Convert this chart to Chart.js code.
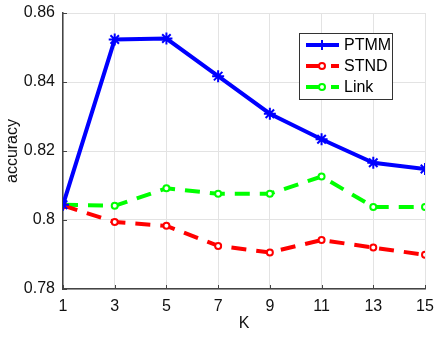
<!DOCTYPE html>
<html>
<head>
<meta charset="utf-8">
<script src="https://cdn.jsdelivr.net/npm/chart.js@4.4.1/dist/chart.umd.min.js"></script>
<style>
  html, body { margin: 0; padding: 0; background: #fff; }
  #wrap { width: 435px; height: 340px; }
</style>
</head>
<body>
<div id="wrap"><canvas id="accChart" width="435" height="340"></canvas></div>
<script>
// dữ liệu
const kValues = [1, 3, 5, 7, 9, 11, 13, 15];
const ptmm = [0.8044, 0.8523, 0.8526, 0.8417, 0.8308, 0.8234, 0.8166, 0.8148];
const stnd = [0.8042, 0.7994, 0.7983, 0.7925, 0.7906, 0.7942, 0.7920, 0.7899];
const link = [0.8044, 0.8041, 0.8092, 0.8076, 0.8076, 0.8126, 0.8038, 0.8038];
const xTicks = [1, 3, 5, 7, 9, 11, 13, 15];
const yTicks = [0.78, 0.8, 0.82, 0.84, 0.86];

const toPoints = arr => arr.map((v, i) => ({ x: kValues[i], y: v }));
const fontFamily = "'Liberation Sans', Arial, sans-serif";

// legend tự vẽ bên trong vùng biểu đồ
const boxLegend = {
  id: 'boxLegend',
  afterDatasetsDraw(chart) {
    const c = chart.ctx;
    const x0 = 299, y0 = 33, w = 93, h = 66;
    c.save();
    c.fillStyle = '#fff';
    c.fillRect(x0, y0, w, h);
    c.strokeStyle = '#333';
    c.lineWidth = 1;
    c.strokeRect(x0 + 0.5, y0 + 0.5, w, h);
    chart.data.datasets.forEach((ds, i) => {
      const y = y0 + 12 + i * 21;
      c.strokeStyle = ds.borderColor;
      c.lineWidth = 4;
      c.setLineDash(ds.borderDash || []);
      c.beginPath();
      c.moveTo(x0 + 7, y);
      c.lineTo(x0 + 40, y);
      c.stroke();
      c.setLineDash([]);
      c.lineWidth = 2;
      if (ds.pointStyle === 'star') {
        c.beginPath();
        c.moveTo(x0 + 23, y - 5); c.lineTo(x0 + 23, y + 5);
        c.moveTo(x0 + 18, y); c.lineTo(x0 + 28, y);
        c.stroke();
      } else {
        c.beginPath();
        c.fillStyle = '#fff';
        c.arc(x0 + 23, y, 3, 0, Math.PI * 2);
        c.fill();
        c.stroke();
      }
      c.fillStyle = '#000';
      c.font = '16px ' + fontFamily;
      c.textBaseline = 'middle';
      c.fillText(ds.label, x0 + 45, y + 1);
    });
    c.restore();
  }
};

// vạch tick nhỏ hướng vào trong, kiểu MATLAB
const innerTicks = {
  id: 'innerTicks',
  afterDraw(chart) {
    const c = chart.ctx;
    const { x, y } = chart.scales;
    const a = chart.chartArea;
    c.save();
    c.strokeStyle = '#444';
    c.lineWidth = 1;
    c.beginPath();
    xTicks.forEach(v => {
      const px = Math.round(x.getPixelForValue(v)) + 0.5;
      c.moveTo(px, a.bottom); c.lineTo(px, a.bottom - 4);
    });
    yTicks.forEach(v => {
      const py = Math.round(y.getPixelForValue(v)) + 0.5;
      c.moveTo(a.left, py); c.lineTo(a.left + 4, py);
    });
    c.stroke();
    c.restore();
  }
};

const ctx = document.getElementById('accChart').getContext('2d');
new Chart(ctx, {
  type: 'line',
  data: {
    datasets: [
      {
        label: 'PTMM',
        data: toPoints(ptmm),
        borderColor: '#0000ff',
        backgroundColor: '#0000ff',
        borderWidth: 4,
        pointStyle: 'star',
        pointRadius: 6,
        pointBorderWidth: 2,
        tension: 0
      },
      {
        label: 'STND',
        data: toPoints(stnd),
        borderColor: '#ff0000',
        backgroundColor: '#ffffff',
        borderWidth: 4,
        borderDash: [15, 10],
        pointStyle: 'circle',
        pointRadius: 3,
        pointBorderWidth: 2,
        tension: 0
      },
      {
        label: 'Link',
        data: toPoints(link),
        borderColor: '#00ff00',
        backgroundColor: '#ffffff',
        borderWidth: 4,
        borderDash: [15, 10],
        pointStyle: 'circle',
        pointRadius: 3,
        pointBorderWidth: 2,
        tension: 0
      }
    ]
  },
  options: {
    responsive: false,
    animation: false,
    layout: { padding: { left: 3, right: 10, top: 13, bottom: 0 } },
    plugins: {
      legend: { display: false },
      tooltip: { enabled: false }
    },
    scales: {
      x: {
        type: 'linear',
        min: 1,
        max: 15,
        afterBuildTicks: s => { s.ticks = xTicks.map(v => ({ value: v })); },
        afterFit: s => { s.height = 51; s.paddingLeft = 0; s.paddingRight = 0; },
        grid: { color: '#e3e3e3', lineWidth: 1, drawTicks: false },
        border: { color: '#444', width: 1.5 },
        ticks: {
          color: '#111',
          padding: 10,
          maxRotation: 0,
          font: { size: 16, family: fontFamily, lineHeight: 1 }
        },
        title: {
          display: true,
          text: 'K',
          color: '#111',
          padding: { top: 0, bottom: 8 },
          font: { size: 16, family: fontFamily, lineHeight: 1 }
        }
      },
      y: {
        type: 'linear',
        min: 0.78,
        max: 0.86,
        afterBuildTicks: s => { s.ticks = yTicks.map(v => ({ value: v })); },
        afterFit: s => { s.width = 60; s.paddingTop = 0; s.paddingBottom = 0; },
        grid: { color: '#e3e3e3', lineWidth: 1, drawTicks: false },
        border: { color: '#444', width: 1.5 },
        ticks: {
          color: '#111',
          padding: 8,
          callback: v => String(Math.round(v * 100) / 100),
          font: { size: 16, family: fontFamily }
        },
        title: {
          display: true,
          text: 'accuracy',
          color: '#111',
          padding: { top: 0, bottom: 2 },
          font: { size: 16, family: fontFamily }
        }
      }
    }
  },
  plugins: [boxLegend, innerTicks]
});
</script>
</body>
</html>
